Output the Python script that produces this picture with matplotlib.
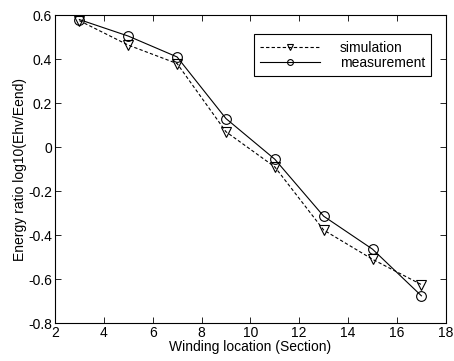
import matplotlib
matplotlib.use("Agg")
import matplotlib.pyplot as plt

sections = [3, 5, 7, 9, 11, 13, 15, 17]
simulation = [0.575, 0.464, 0.38, 0.07, -0.09, -0.377, -0.51, -0.625]
measurement = [0.58, 0.505, 0.41, 0.13, -0.055, -0.314, -0.464, -0.676]
xticks = [2, 4, 6, 8, 10, 12, 14, 16, 18]
yticks = [-0.8, -0.6, -0.4, -0.2, 0, 0.2, 0.4, 0.6]

plt.rcParams['font.family'] = ['Liberation Sans', 'DejaVu Sans']
fig = plt.figure(figsize=(4.54, 3.61), dpi=100)
ax = fig.add_axes([0.121, 0.105, 0.861, 0.853])

ax.plot(sections, simulation, linestyle='--', color='black', linewidth=0.8,
        marker='v', markersize=7, markerfacecolor='none', markeredgewidth=0.8,
        dashes=(3, 2), label='simulation')
ax.plot(sections, measurement, linestyle='-', color='black', linewidth=0.8,
        marker='o', markersize=7, markerfacecolor='none', markeredgewidth=0.8,
        label='measurement')

ax.set_xlim(2, 18)
ax.set_ylim(-0.8, 0.6)
ax.set_xticks(xticks)
ax.set_yticks(yticks)
ax.set_xticklabels([str(t) for t in xticks])
ax.set_yticklabels(['-0.8', '-0.6', '-0.4', '-0.2', '0', '0.2', '0.4', '0.6'])
ax.tick_params(direction='in', top=True, right=True, labelsize=10, length=4, width=0.6, pad=2)
for s in ax.spines.values():
    s.set_linewidth(0.8)

ax.set_xlabel('Winding location (Section)', fontsize=10, labelpad=0)
ax.set_ylabel('Energy ratio log10(Ehv/Eend)', fontsize=10, labelpad=1)

leg = ax.legend(loc='upper right', fontsize=10, frameon=True, fancybox=False,
                edgecolor='black', framealpha=1, borderpad=0.45, handlelength=4.3,
                markerscale=0.6, handletextpad=1.4,
                bbox_to_anchor=(0.98, 0.96), labelspacing=0.1)
leg.get_frame().set_linewidth(0.8)

fig.savefig('out.png', dpi=100)
